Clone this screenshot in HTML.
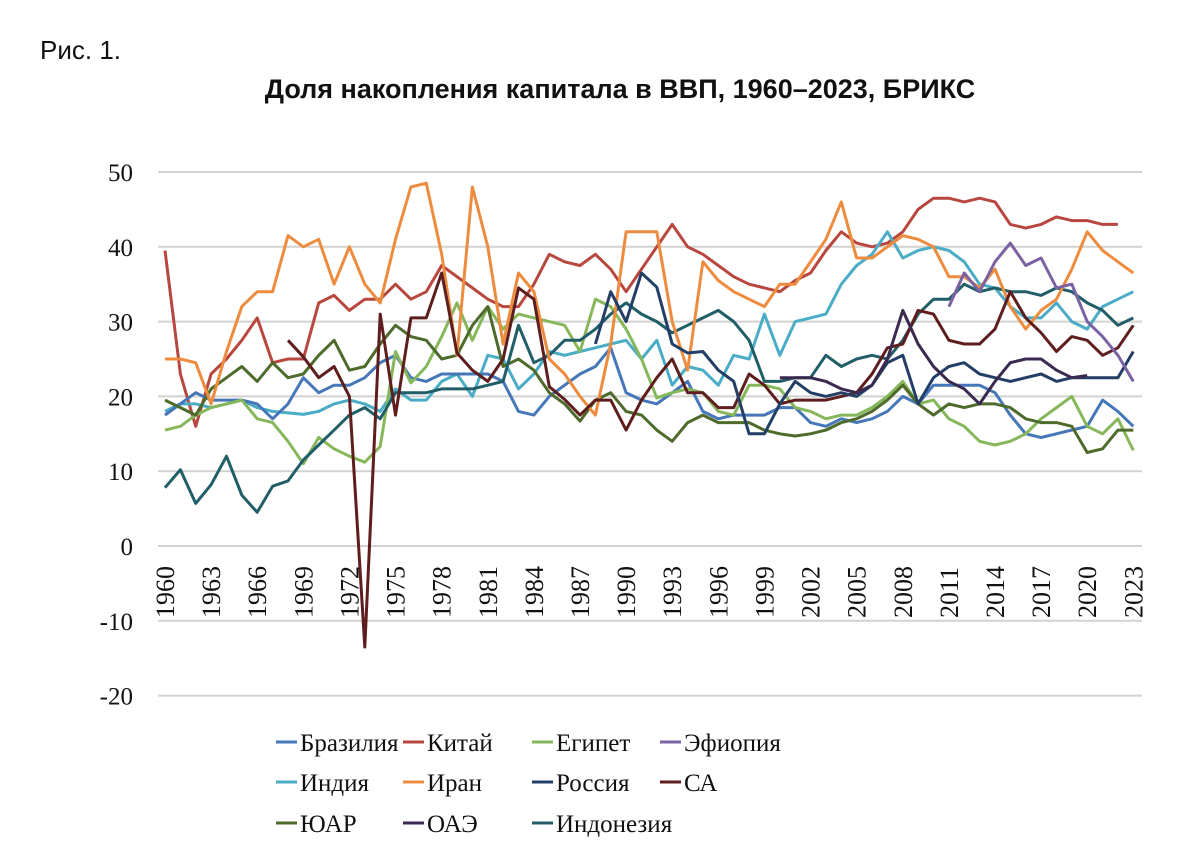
<!DOCTYPE html>
<html><head><meta charset="utf-8"><style>
body{margin:0;background:#fff;width:1200px;height:860px;overflow:hidden}
svg{display:block}
.serif{font-family:"Liberation Serif","Noto Serif CJK SC","DejaVu Serif",serif}
</style></head><body>
<svg id="s" width="1200" height="860" xmlns="http://www.w3.org/2000/svg">
<text x="40" y="59" style="font-family:'Liberation Sans',sans-serif" font-size="26" fill="#111">Рис. 1.</text>
<text x="620" y="98" text-anchor="middle" style="font-family:'Liberation Sans',sans-serif" font-weight="bold" font-size="27" fill="#111">Доля накопления капитала в ВВП, 1960–2023, БРИКС</text>
<g id="grid" stroke="#d2d2d0" stroke-width="2"></g>
<g id="yl" class="serif" font-size="25" fill="#111" text-anchor="end"></g>
<g id="xl" class="serif" font-size="26" fill="#111"></g>
<g id="series" fill="none" stroke-width="3" stroke-linejoin="round"></g>
<g id="leg" class="serif" font-size="25" fill="#111"></g>
</svg>
<script>
var NS="http://www.w3.org/2000/svg";
function el(p,t,a,txt){var e=document.createElementNS(NS,t);for(var k in a)e.setAttribute(k,a[k]);if(txt!=null)e.textContent=txt;document.getElementById(p).appendChild(e);return e;}
function Y(v){return 546-7.48*v;}
function X(i){return 165+15.37*i;}
for(var v=-20;v<=50;v+=10){el("grid","line",{x1:158,x2:1142,y1:Y(v),y2:Y(v)});el("yl","text",{x:133,y:Y(v)+9},String(v));}
for(var yr=1960;yr<=2023;yr+=3){var x=X(yr-1960)+9;el("xl","text",{x:0,y:0,transform:"translate("+x+",618) rotate(-90)"},String(yr));}
var S=[
["#b7473f",0,[39.5,23,16,23,25,27.5,30.5,24.5,25,25,32.5,33.5,31.5,33,33,35,33,34,37.5,36,34.5,33,32,32,35,39,38,37.5,39,37,34,37,40,43,40,39,37.5,36,35,34.5,34,35.5,36.5,39.5,42,40.5,40,40.5,42,45,46.5,46.5,46,46.5,46,43,42.5,43,44,43.5,43.5,43,43]],
["#4aacc5",0,[18,19,19,18.5,19,19.5,18.5,18,17.8,17.6,18,19,19.5,19,18,21,19.5,19.5,22,23,20,25.5,25,21,23,26,25.5,26,26.5,27,27.5,25,27.5,21.5,24,23.5,21.5,25.5,25,31,25.5,30,30.5,31,35,37.5,39,42,38.5,39.5,40,39.5,38,35,34.5,32,30.5,30.5,32.5,30,29,32,33,34]],
["#4677b8",0,[17.5,19,20.5,19.5,19.5,19.5,19,17,19,22.5,20.5,21.5,21.5,22.5,24.5,25.5,22.5,22,23,23,23,23,22,18,17.5,20,21.5,23,24,26.5,20.5,19.5,19,20.5,22,18,17,17.5,17.5,17.5,18.5,18.5,16.5,16,17,16.5,17,18,20,19,21.5,21.5,21.5,21.5,20.5,17.5,15,14.5,15,15.5,16,19.5,18,16]],
["#86b75a",0,[15.5,16,17.5,18.5,19,19.5,17,16.5,14,11,14.5,13,12,11.2,13.3,26,21.8,24,28,32.5,27.5,32,29,31,30.5,30,29.5,26,33,32,29,25,19.8,20.5,21,20.5,18,17.5,21.5,21.5,21,18.5,18,17,17.5,17.5,18.5,20,22,19,19.5,17,16,14,13.5,14,15,17,18.5,20,16,15,17,12.8]],
["#4e6b2c",0,[19.5,18.5,17.5,21,22.5,24,22,24.5,22.5,23,25.5,27.5,23.5,24,27,29.5,28,27.5,25,25.5,29.5,32,24,25,23.5,20.5,19,16.7,19.5,20.5,18,17.5,15.5,14,16.5,17.5,16.5,16.5,16.5,15.5,15,14.7,15,15.5,16.5,17,18,19.5,21.5,19,17.5,19,18.5,19,19,18.5,17,16.5,16.5,16,12.5,13,15.5,15.5]],
["#215e68",0,[7.8,10.2,5.7,8.2,12,6.8,4.5,8,8.7,11.5,13.5,15.5,17.5,18.5,17,20.5,20.5,20.5,21,21,21,21.5,22,29.5,24.5,25.5,27.5,27.5,29,31,32.5,31,30,28.5,29.5,30.5,31.5,30,27.5,22,22,22.5,22.5,25.5,24,25,25.5,25,27.5,31,33,33,35,34,34.5,34,34,33.5,34.5,34,32.5,31.5,29.5,30.5]],
["#ed8c3f",0,[25,25,24.5,19,26,32,34,34,41.5,40,41,35,40,35,32.5,41,48,48.5,39,25.5,48,40,27,36.5,34,25,23,20,17.5,27,42,42,42,30,23.5,38,35.5,34,33,32,35,35,38,41,46,38.5,38.5,40,41.5,41,40,36,36,34.5,37,32,29,31.5,33,37,42,39.5,38,36.5]],
["#5e1e1e",8,[27.5,25.3,22.5,24,20,-13.5,31,17.5,30.5,30.5,36.5,25.8,23.5,22,25,34.5,33,21.3,19.6,17.5,19.5,19.5,15.5,19.5,22.5,25,20.5,20.5,18.5,18.5,23,21.5,19,19.5,19.5,19.5,20,20.5,23,26.5,27,31.5,31,27.5,27,27,29,34,30.5,28.5,26,28,27.5,25.5,26.5,29.5]],
["#243f66",28,[27,34,30,36.5,34.6,27,25.8,26,23.5,22,15,15,19,22,20.5,20,20.5,20,21.5,24.5,25.5,19,22.5,24,24.5,23,22.5,22,22.5,23,22,22.5,22.5,22.5,22.5,26]],
["#3a2a50",40,[22.5,22.5,22.5,22,21,20.5,21.5,25,31.5,27,24,22,21,19,22,24.5,25,25,23.5,22.5,22.8]],
["#7b62a3",51,[32,36.5,34,38,40.5,37.5,38.5,34.5,35,30,28,25.5,22]]
];
S.forEach(function(s){var p=s[2].map(function(v,i){return X(s[1]+i).toFixed(1)+","+Y(v).toFixed(1)}).join(" ");el("series","polyline",{points:p,stroke:s[0]});});
var L=[["Бразилия","#4677b8",276,742],["Китай","#b7473f",403,742],["Египет","#86b75a",532,742],["Эфиопия","#7b62a3",660,742],
["Индия","#4aacc5",276,782],["Иран","#ed8c3f",403,782],["Россия","#243f66",532,782],["СА","#5e1e1e",660,782],
["ЮАР","#4e6b2c",276,823],["ОАЭ","#3a2a50",403,823],["Индонезия","#215e68",532,823]];
L.forEach(function(l){el("leg","line",{x1:l[2],x2:l[2]+21,y1:l[3],y2:l[3],stroke:l[1],"stroke-width":3});el("leg","text",{x:l[2]+24,y:l[3]+9},l[0]);});
</script>
</body></html>
